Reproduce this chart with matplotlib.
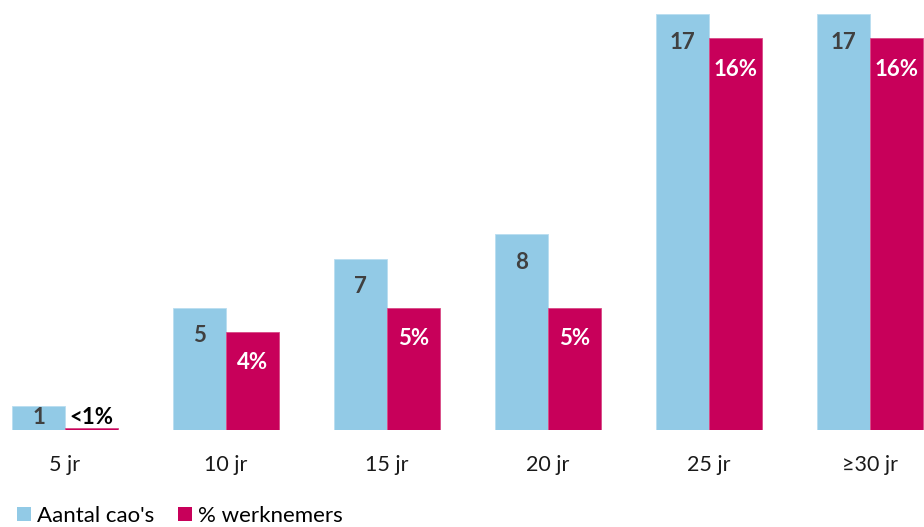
import matplotlib
matplotlib.use("Agg")
import matplotlib.pyplot as plt
from matplotlib.patches import Patch
import numpy as np

plt.rcParams['font.family'] = ['Lato', 'DejaVu Sans']

categories = ["5 jr", "10 jr", "15 jr", "20 jr", "25 jr", "\u226530 jr"]
aantal_caos = [1, 5, 7, 8, 17, 17]
pct_werknemers = [0.1, 4, 5, 5, 16, 16]
pct_labels = ["<1%", "4%", "5%", "5%", "16%", "16%"]

blue = "#92CAE6"
magenta = "#C8005A"

W, H = 924, 527
fig = plt.figure(figsize=(W / 100, H / 100), dpi=100)
ax = fig.add_axes([0, (H - 430) / H, 1, 430 / H])

x = np.arange(len(categories))
w = 0.329
ax.bar(x - w / 2, aantal_caos, w, color=blue, edgecolor="#B9DDF0", linewidth=0.6)
ax.bar(x + w / 2, pct_werknemers, w, color=magenta, edgecolor="#D84A85", linewidth=0.6)

ax.set_xlim(-0.404, 5.335)
ax.set_ylim(0, 17 * 430 / 416)

for xi, v in zip(x, aantal_caos):
    y = v / 2 if v < 3 else v - 1.15
    ax.text(xi - w / 2, y, str(v), ha="center", va="center",
            fontsize=16, fontweight="bold", color="#404040")

for xi, v, lab in zip(x, pct_werknemers, pct_labels):
    if v < 1:
        ax.text(xi + w / 2, v + 0.42, lab, ha="center", va="center",
                fontsize=16, fontweight="bold", color="black")
    else:
        ax.text(xi + w / 2, v - 1.25, lab, ha="center", va="center",
                fontsize=16, fontweight="bold", color="white")

ax.set_xticks(x)
ax.set_xticklabels(categories, fontsize=15.5, color="#1a1a1a")
ax.tick_params(axis="x", length=0, pad=18)
ax.set_yticks([])
for s in ax.spines.values():
    s.set_visible(False)

handles = [Patch(facecolor=blue, edgecolor="none", label="Aantal cao's"),
           Patch(facecolor=magenta, edgecolor="none", label="% werknemers")]
fig.legend(handles=handles, loc="center left", bbox_to_anchor=(17 / W, 1 - 516 / H),
           ncol=2, frameon=False, fontsize=16, handlelength=0.62, handleheight=0.62,
           handletextpad=0.3, columnspacing=1.05, borderaxespad=0, borderpad=0)

fig.savefig("out.png", dpi=100)
